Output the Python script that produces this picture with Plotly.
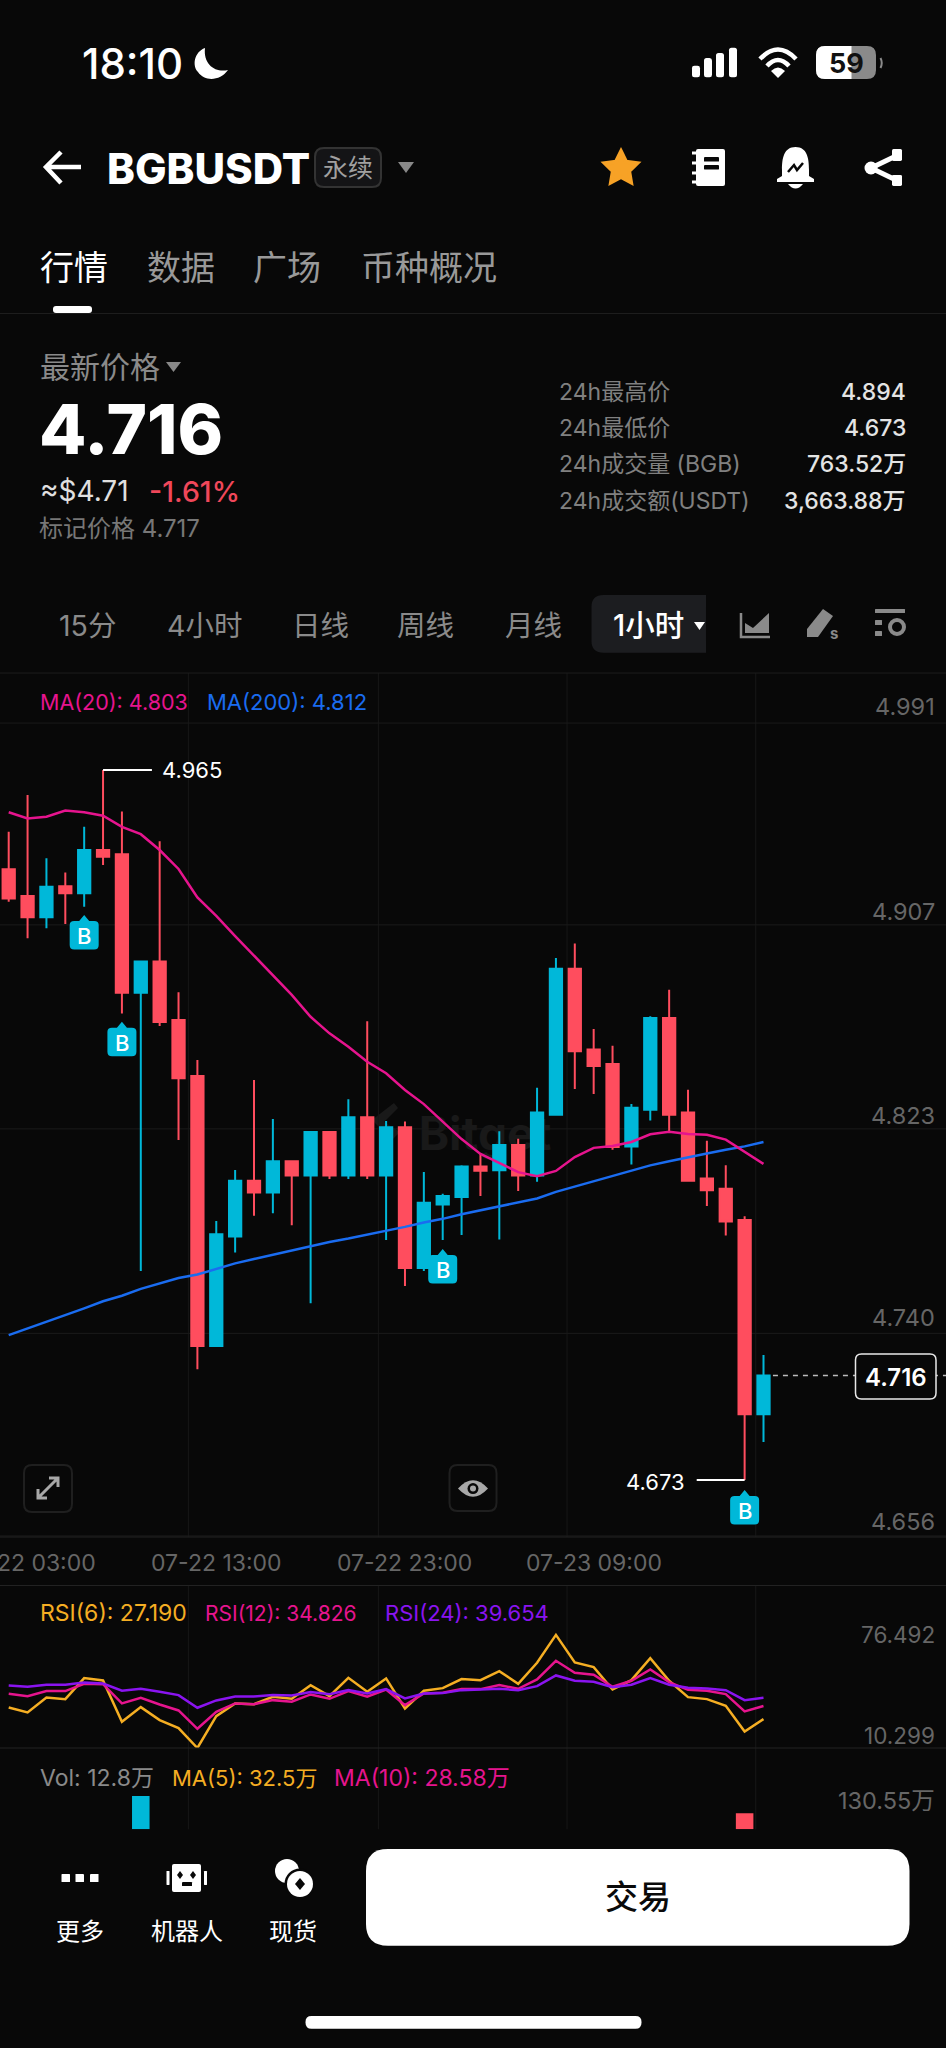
import math
import re
import plotly.graph_objects as go

# ---- data ----
idx = list(range(41))
high = [4.9396,4.9547,4.9287,4.9228,4.9417,4.9650,4.9479,4.8866,4.9357,4.8736,4.8457,4.7795,4.8005,4.8375,4.8215,4.8045,4.8161,4.8161,4.8296,4.8617,4.8206,4.8204,4.7997,4.7907,4.8024,4.8075,4.8164,4.8133,4.8343,4.8877,4.8936,4.8585,4.8516,4.8276,4.8637,4.8746,4.8335,4.8125,4.8024,4.7815,4.7244]
body_top = [4.9242,4.9132,4.9170,4.9172,4.9321,4.9321,4.9303,4.8862,4.8862,4.8622,4.8392,4.7741,4.7961,4.7961,4.8041,4.8041,4.8161,4.8161,4.8222,4.8222,4.8181,4.8181,4.7870,4.7898,4.8019,4.8019,4.8108,4.8108,4.8241,4.8833,4.8833,4.8501,4.8441,4.8261,4.8630,4.8630,4.8241,4.7970,4.7928,4.7799,4.7160]
body_bot = [4.9122,4.9044,4.9044,4.9143,4.9143,4.9293,4.8734,4.8734,4.8614,4.8382,4.7281,4.7281,4.7731,4.7912,4.7912,4.7982,4.7982,4.7982,4.7982,4.7982,4.7982,4.7602,4.7602,4.7863,4.7894,4.8002,4.8004,4.7982,4.7982,4.8232,4.8493,4.8433,4.8100,4.8102,4.8253,4.8232,4.7961,4.7922,4.7793,4.7000,4.7000]
low = [4.9108,4.8958,4.8999,4.9017,4.9088,4.9259,4.8649,4.7590,4.8597,4.8128,4.7185,4.7281,4.7666,4.7817,4.7827,4.7778,4.7457,4.7968,4.7968,4.7968,4.7717,4.7528,4.7590,4.7717,4.7738,4.7898,4.7719,4.7919,4.7957,4.8232,4.8338,4.8318,4.8088,4.8028,4.8209,4.8158,4.7957,4.7857,4.7736,4.6730,4.6886]
rising = [2,4,7,11,12,14,16,18,20,22,23,24,26,28,29,33,34,40]
ma20 = [4.9476,4.9451,4.9458,4.9483,4.9476,4.9462,4.9416,4.9386,4.9321,4.9243,4.9126,4.9050,4.8967,4.8885,4.8807,4.8725,4.8635,4.8567,4.8512,4.8450,4.8403,4.8334,4.8276,4.8204,4.8132,4.8071,4.8034,4.7996,4.7979,4.8001,4.8058,4.8096,4.8104,4.8120,4.8152,4.8162,4.8153,4.8150,4.8130,4.8080,4.8030]
ma200 = [4.7326,4.7353,4.7381,4.7410,4.7436,4.7465,4.7488,4.7516,4.7539,4.7561,4.7575,4.7597,4.7621,4.7639,4.7657,4.7676,4.7693,4.7709,4.7723,4.7738,4.7755,4.7771,4.7789,4.7804,4.7823,4.7840,4.7857,4.7872,4.7888,4.7915,4.7937,4.7957,4.7979,4.8001,4.8024,4.8041,4.8058,4.8073,4.8088,4.8102,4.8120]
rsi6 = [34.02,31.09,39.87,38.89,51.18,49.82,25.63,34.21,26.61,21.93,10.30,28.95,36.36,35.97,40.26,39.09,47.09,40.65,51.38,43.19,50.99,33.43,43.77,45.33,50.60,50.01,55.28,47.87,60.15,76.49,60.35,57.62,44.55,50.01,62.88,49.62,40.07,38.89,34.99,19.98,27.19]
rsi12 = [42.02,40.65,43.58,43.58,47.87,47.67,36.36,39.67,35.77,32.26,21.54,31.48,36.36,35.97,38.31,37.34,41.63,39.09,43.58,40.26,44.55,35.38,42.21,42.60,44.75,44.75,47.09,44.94,50.40,61.32,54.30,53.13,46.11,49.62,56.25,48.84,44.36,43.77,41.82,31.68,34.83]
rsi24 = [46.89,46.11,47.28,47.28,48.65,48.06,43.77,44.94,43.19,41.24,33.83,38.12,40.45,40.45,41.24,41.04,42.99,41.82,44.16,42.21,44.75,39.29,42.21,42.41,44.16,44.36,44.94,44.16,46.50,52.74,49.62,49.04,45.92,47.28,51.18,47.28,45.53,45.14,44.16,38.31,39.65]
vol_idx = [7, 39]
vol_val = [148.4, 71.3]
vol_rising = [True, False]
time_idx = [1, 11, 21, 31]
time_labels = ["07-22 03:00", "07-22 13:00", "07-22 23:00", "07-23 09:00"]
grid_idx = [9.52, 19.59, 29.59, 39.59]
price_labels = [4.991, 4.907, 4.823, 4.740, 4.656]
price_grid = [4.9843, 4.9013, 4.8174, 4.7333, 4.6500]
buy_idx = [4, 6, 23, 39]
buy_price = [4.9054, 4.8615, 4.7680, 4.6689]
last_price = 4.716
high_mark = (5, 4.965)
low_mark = (39, 4.673)

# ---- styling ----
W, H = 946, 2048
BG = "#080808"
CY = "#00B8D9"
RD = "#FF4D5E"
PK = "#E6148E"
BL = "#1A6CF0"
OR = "#F5AE23"
PU = "#8A14F0"
GR = "#8A8A8A"
AX = "#666666"
GL = "#171717"
FONT = "Inter, 'Noto Sans CJK SC', sans-serif"
CX0, CDX = 8.7, 18.87
X_RANGE = [-CX0 / CDX, (W - CX0) / CDX]
PX_PER = 2431.5

def price_at(py):
    return 4.965 - (py - 770) / PX_PER

def dom(top, bottom):
    return [1 - bottom / H, 1 - top / H]

shapes, annos = [], []

def T(text, x, y, size, color, anchor="left", weight=400):
    annos.append(dict(text=text, x=x / W, y=1 - y / H, xref="paper", yref="paper", xanchor=anchor, yanchor="middle",
                      showarrow=False, borderpad=0, font=dict(family=FONT, size=size, color=color, weight=weight)))

def conv(d):
    out, isx = [], True
    for tok in re.findall(r"[MLQCZ]|-?[\d.]+", d):
        if tok.isalpha():
            out.append(tok); isx = True
        else:
            v = float(tok)
            out.append(f"{v / W:.5f}" if isx else f"{1 - v / H:.5f}")
            isx = not isx
    return " ".join(out)

def P(d, fill=None, line=None, lw=0, layer="above"):
    shapes.append(dict(type="path", path=conv(d), xref="paper", yref="paper", layer=layer,
                       fillcolor=fill if fill else "rgba(0,0,0,0)",
                       line=dict(color=line if line else "rgba(0,0,0,0)", width=lw)))

def RR(x0, y0, x1, y1, r, fill=None, line=None, lw=0, rl=True, rr=True):
    a = r if rl else 0
    b = r if rr else 0
    d = (f"M{x0+a} {y0} L{x1-b} {y0} Q{x1} {y0} {x1} {y0+b} L{x1} {y1-b} Q{x1} {y1} {x1-b} {y1} "
         f"L{x0+a} {y1} Q{x0} {y1} {x0} {y1-a} L{x0} {y0+a} Q{x0} {y0} {x0+a} {y0} Z")
    P(d, fill, line, lw)

def CIRC(cx, cy, r, fill=None, line=None, lw=0):
    shapes.append(dict(type="circle", xref="paper", yref="paper", x0=(cx - r) / W, x1=(cx + r) / W,
                       y0=1 - (cy + r) / H, y1=1 - (cy - r) / H,
                       fillcolor=fill if fill else "rgba(0,0,0,0)",
                       line=dict(color=line if line else "rgba(0,0,0,0)", width=lw)))

def HL(y, color, x0=0, x1=W, lw=1):
    P(f"M{x0} {y} L{x1} {y}", None, color, lw)

# ---- traces ----
opens = [body_bot[i] if i in rising else body_top[i] for i in idx]
closes = [body_top[i] if i in rising else body_bot[i] for i in idx]

fig = go.Figure()
fig.add_trace(go.Candlestick(x=idx, open=opens, high=high, low=low, close=closes, xaxis="x", yaxis="y",
                             whiskerwidth=0, hoverinfo="skip",
                             increasing=dict(line=dict(color=CY, width=2), fillcolor=CY),
                             decreasing=dict(line=dict(color=RD, width=2), fillcolor=RD)))
fig.add_trace(go.Scatter(x=idx, y=ma200, mode="lines", line=dict(color=BL, width=2.5), xaxis="x", yaxis="y", hoverinfo="skip"))
fig.add_trace(go.Scatter(x=idx, y=ma20, mode="lines", line=dict(color=PK, width=2.5), xaxis="x", yaxis="y", hoverinfo="skip"))
fig.add_trace(go.Scatter(x=idx, y=rsi6, mode="lines", line=dict(color=OR, width=2.5), xaxis="x2", yaxis="y2", hoverinfo="skip"))
fig.add_trace(go.Scatter(x=idx, y=rsi12, mode="lines", line=dict(color=PK, width=2.5), xaxis="x2", yaxis="y2", hoverinfo="skip"))
fig.add_trace(go.Scatter(x=idx, y=rsi24, mode="lines", line=dict(color=PU, width=2.5), xaxis="x2", yaxis="y2", hoverinfo="skip"))
fig.add_trace(go.Bar(x=vol_idx, y=vol_val, width=0.93, marker=dict(color=[CY if r else RD for r in vol_rising], line=dict(width=0)),
                     xaxis="x3", yaxis="y3", hoverinfo="skip"))

# ---- chart furniture ----
shapes.append(dict(type="rect", xref="paper", yref="paper", x0=400 / W, x1=570 / W, y0=1 - 1160 / H, y1=1 - 1104 / H,
                   layer="below", line=dict(width=0), fillcolor="rgba(0,0,0,0)",
                   label=dict(text="<b>Bitget</b>", font=dict(family=FONT, size=46, color="#191919"),
                              textposition="middle center")))
P("M372 1120 L394 1103 L398 1108 L384 1122 L400 1132 L392 1140 Z", "#191919", layer="below")

for g in grid_idx:
    for yr in ("y domain", "y2 domain", "y3 domain"):
        shapes.append(dict(type="line", xref="x", yref=yr, x0=g, x1=g, y0=0, y1=1, layer="below",
                           line=dict(color=GL, width=1)))
for g in price_grid:
    shapes.append(dict(type="line", xref="paper", yref="y", x0=0, x1=1, y0=g, y1=g, layer="below",
                       line=dict(color="#1a1a1a", width=1)))
HL(313.5, "#1d1d1d")
HL(673, "#1d1d1d")
HL(1537, "#222222")
HL(1585.5, "#222222")
HL(1748, "#222222")

# time axis labels
for ti, tl in zip(time_idx, time_labels):
    annos.append(dict(text=tl, x=ti, y=1 - 1563 / H, xref="x", yref="paper", xanchor="center", yanchor="middle",
                      showarrow=False, borderpad=0, font=dict(family=FONT, size=23, color=AX)))

# high / low markers
shapes.append(dict(type="line", xref="x", yref="y", x0=high_mark[0], x1=7.59, y0=high_mark[1], y1=high_mark[1], line=dict(color="white", width=2)))
shapes.append(dict(type="line", xref="x", yref="y", x0=low_mark[0], x1=36.46, y0=low_mark[1], y1=low_mark[1], line=dict(color="white", width=2)))
annos.append(dict(text=f"{high_mark[1]:.3f}", x=8.07, y=high_mark[1], xref="x", yref="y", xanchor="left", yanchor="middle",
                  showarrow=False, borderpad=0, font=dict(family=FONT, size=22, color="white")))
annos.append(dict(text=f"{low_mark[1]:.3f}", x=35.9, y=low_mark[1], xref="x", yref="y", xanchor="right", yanchor="middle", yshift=-2,
                  showarrow=False, borderpad=0, font=dict(family=FONT, size=22, color="white")))

# last price line + box
shapes.append(dict(type="line", xref="x", yref="y", x0=40.5, x1=X_RANGE[1], y0=last_price, y1=last_price,
                   line=dict(color="#bbbbbb", width=1.5, dash="5px,5px")))
RR(855.5, 1354, 936, 1399, 6, BG, "#e8e8e8", 1.5)
T(f"{last_price:.3f}", 896, 1377, 24, "white", "center", 600)

# buy markers
for bx, by in zip(buy_idx, buy_price):
    path = "M0 0 L5 -6 L10 -6 Q14.5 -6 14.5 -10 L14.5 -30 Q14.5 -34.5 10 -34.5 L-10 -34.5 Q-14.5 -34.5 -14.5 -30 L-14.5 -10 Q-14.5 -6 -10 -6 L-5 -6 Z"
    shapes.append(dict(type="path", xref="x", yref="y", xsizemode="pixel", ysizemode="pixel", xanchor=bx, yanchor=by,
                       path=path, fillcolor=CY, line=dict(width=0)))
    annos.append(dict(text="B", x=bx, y=by, xref="x", yref="y", xanchor="center", yanchor="middle", yshift=-21,
                      showarrow=False, borderpad=0, font=dict(family=FONT, size=22, color="white", weight=500)))

# axis labels
AXS = 23.5
for v in price_labels:
    annos.append(dict(text=f"{v:.3f}", x=936 / W, y=v, xref="paper", yref="y", xanchor="right", yanchor="middle",
                      showarrow=False, borderpad=0, font=dict(family=FONT, size=AXS, color=AX)))
annos.append(dict(text="76.492", x=936 / W, y=76.492, xref="paper", yref="y2", xanchor="right", yanchor="middle",
                  showarrow=False, borderpad=0, font=dict(family=FONT, size=22.5, color=AX)))
annos.append(dict(text="10.299", x=936 / W, y=10.299, xref="paper", yref="y2", xanchor="right", yanchor="middle", yshift=13,
                  showarrow=False, borderpad=0, font=dict(family=FONT, size=22.5, color=AX)))
annos.append(dict(text="130.55万", x=936 / W, y=130.55, xref="paper", yref="y3", xanchor="right", yanchor="middle",
                  showarrow=False, borderpad=0, font=dict(family=FONT, size=23.5, color=AX)))

# legends
T("MA(20): 4.803", 39, 701.5, 21.5, PK)
T("MA(200): 4.812", 206, 701.5, 22, BL)
T("RSI(6): 27.190", 39, 1613, 23, OR)
T("RSI(12): 34.826", 204, 1613, 21, PK)
T("RSI(24): 39.654", 384, 1613, 22, PU)
T("Vol: 12.8万", 39, 1778, 23, GR)
T("MA(5): 32.5万", 171, 1778, 22, OR)
T("MA(10): 28.58万", 333, 1778, 23, PK)

# ---- status bar ----
T("18:10", 81, 63, 42, "white", "left", 500)
P("M205 48 C194 52 192 66 198 72 C205 82 220 81 228 70 C216 73 203 65 205 48 Z", "white")
for x0, top in zip((692, 704, 716, 729), (65.7, 58, 53, 47.7)):
    RR(x0, top, x0 + 8, 77.3, 2.5, "white")
P("M760 59 Q778 40 796 59", None, "white", 4.5)
P("M767 66 Q778 54 789 66", None, "white", 4.5)
P("M778 78 L771 71 Q778 64 785 71 Z", "white")
RR(816, 46, 876, 79, 9, "#8a8a8a")
RR(816, 46, 851.5, 79, 9, "white", rr=False)
P("M880.5 58 Q883 63 880.5 68", None, "#8a8a8a", 2)
T("59", 846, 63, 27, "#111111", "center", 700)

# ---- header ----
P("M81 167 L47 167 M61 152 L46 167 L61 183", None, "white", 4.5)
T("BGBUSDT", 106, 168.5, 42, "white", "left", 800)
RR(315, 148, 381, 187, 9, "#141416", "#333333", 2)
T("永续", 348, 167.5, 25, "#a0a0a0", "center")
P("M398 162 L414 162 L406 173 Z", "#888888")
pts = []
for k in range(10):
    r = 17 if k % 2 == 0 else 8.5
    a = -math.pi / 2 + k * math.pi / 5
    pts.append((621 + r * math.cos(a), 168.5 + r * math.sin(a)))
P("M" + " L".join(f"{a:.1f} {b:.1f}" for a, b in pts) + " Z", "#F7A226", "#F7A226", 4)
RR(696, 149, 725, 186, 2, "white")
for yy in (153, 163, 173, 182):
    HL(yy, "white", 692, 697, 3)
RR(704, 157, 719, 161.5, 0.5, BG)
RR(704, 165, 719, 169.5, 0.5, BG)
P("M795.5 147 C784 147 782 158 782 170 L782 176 L777 179 L777 182 L814 182 L814 179 L809 176 L809 170 C809 158 807 147 795.5 147 Z", "white")
P("M788 184 Q795.5 193 803 184 Z", "white")
P("M788 172 L794 165 L797 170 L803 163", None, BG, 2.5)
P("M898 155 L871 168 L898 181", None, "white", 5)
CIRC(871, 168, 6.5, "white")
RR(892, 149, 902, 161, 1.5, "white")
RR(892, 175, 902, 186, 1.5, "white")

# ---- tabs ----
T("行情", 38.5, 267, 34, "white")
T("数据", 146, 267, 34, "#999999")
T("广场", 252, 267, 34, "#999999")
T("币种概况", 360, 267, 34, "#999999")
RR(53, 306, 92, 313, 3, "white")

# ---- quote block ----
T("最新价格", 38.5, 367, 30, GR)
P("M166 362 L181 362 L173.5 372 Z", "#888888")
T("4.716", 38, 429, 69, "white", "left", 800)
T("≈$4.71", 39, 491, 28, "#e0e0e0")
T("-1.61%", 148, 491, 28.5, "#F0475A", "left", 500)
T("标记价格 4.717", 38, 528, 24, "#777777")
for lab, val, yy in zip(("24h最高价", "24h最低价", "24h成交量 (BGB)", "24h成交额(USDT)"),
                        ("4.894", "4.673", "763.52万", "3,663.88万"),
                        (391.7, 427.7, 464.3, 500.7)):
    T(lab, 557.5, yy, 23, "#808080")
    T(val, 906.5, yy, 23, "#e4e4e4", "right", 500)

# ---- timeframe bar ----
for lab, cx in zip(("15分", "4小时", "日线", "周线", "月线"), (87, 204, 320, 425, 533)):
    T(lab, cx, 625, 28.5, "#8a8a8a", "center")
RR(591.5, 595, 706, 652.7, 12, "#1C1D20", rr=False)
T("1小时", 648, 625, 29.5, "white", "center", 500)
P("M694 622 L705 622 L699.5 630 Z", "white")
P("M741 613 L741 637 L770 637", None, "#8a8a8a", 2.5)
P("M745 633 L745 623 L753 628 L769 613 L769 633 Z", "#8a8a8a")
P("M823 609 L833 616 L818 637 L807 637 L807 629 Z", "#8a8a8a")
T("s", 834, 633, 15, "#8a8a8a", "center", 700)
RR(875, 609, 905, 613, 0.5, "#8a8a8a")
RR(875, 620, 882, 625, 0.5, "#8a8a8a")
RR(875, 631, 882, 636, 0.5, "#8a8a8a")
CIRC(897, 627, 7, None, "#8a8a8a", 4)

# ---- chart buttons ----
RR(24, 1465, 72, 1512, 8, None, "#1f1f1f", 2)
P("M38 1498 L58 1478 M49 1478 L58 1478 L58 1487 M38 1489 L38 1498 L47 1498", None, "#a8a8a8", 3)
RR(449.5, 1465, 496.5, 1511, 8, None, "#1f1f1f", 2)
P("M458 1488.6 Q473 1472 488 1488.6 Q473 1505 458 1488.6 Z", "#a8a8a8")
CIRC(473, 1488.6, 5.5, BG)
CIRC(473, 1488.6, 3, "#a8a8a8")

# ---- bottom bar ----
RR(61.5, 1874, 70, 1882, 0.5, "white")
RR(75.5, 1874, 84, 1882, 0.5, "white")
RR(90, 1874, 98.5, 1882, 0.5, "white")
RR(172, 1864, 201, 1892, 2, "white")
RR(166.5, 1871, 169.5, 1885, 0.5, "white")
RR(204, 1871, 207, 1885, 0.5, "white")
P("M180 1871 L183 1875 L180 1879 L177 1875 Z", BG)
P("M193 1871 L196 1875 L193 1879 L190 1875 Z", BG)
RR(182, 1882, 192, 1886, 0.5, BG)
CIRC(287, 1871, 12, "white")
CIRC(300, 1884, 15.5, BG)
CIRC(300, 1884, 13, "white")
P("M300 1878 L305 1884 L300 1890 L295 1884 Z", BG)
T("更多", 80, 1931, 24, "white", "center")
T("机器人", 187, 1931, 24, "white", "center")
T("现货", 293, 1931, 24, "white", "center")
RR(366, 1849, 909.5, 1945.7, 22, "white")
T("交易", 638, 1897, 33, "#0a0a0a", "center", 500)
RR(305.5, 2016, 641.5, 2028.7, 6, "white")

# ---- layout ----
hidden = dict(showgrid=False, zeroline=False, showticklabels=False, ticks="", showline=False, fixedrange=True)
fig.update_layout(
    width=W, height=H, margin=dict(l=0, r=0, t=0, b=0), paper_bgcolor=BG, plot_bgcolor="rgba(0,0,0,0)",
    showlegend=False, font=dict(family=FONT), boxgap=0.07, hovermode=False,
    xaxis=dict(domain=[0, 1], range=X_RANGE, anchor="y", rangeslider=dict(visible=False), **hidden),
    yaxis=dict(domain=dom(673, 1537), range=[price_at(1537), price_at(673)], **hidden),
    xaxis2=dict(domain=[0, 1], range=X_RANGE, anchor="y2", **hidden),
    yaxis2=dict(domain=dom(1585.5, 1748), range=[10.299, 10.299 + 162.5 * 0.5851], anchor="x2", **hidden),
    xaxis3=dict(domain=[0, 1], range=X_RANGE, anchor="y3", **hidden),
    yaxis3=dict(domain=dom(1748, 1829.3), range=[0, 81.3 / 0.2244], anchor="x3", **hidden),
    shapes=shapes, annotations=annos,
)
fig.write_html("out.html", config=dict(displayModeBar=False, staticPlot=True),
               post_script="document.body.style.margin='0';document.documentElement.style.background='#080808';document.body.style.background='#080808';")
